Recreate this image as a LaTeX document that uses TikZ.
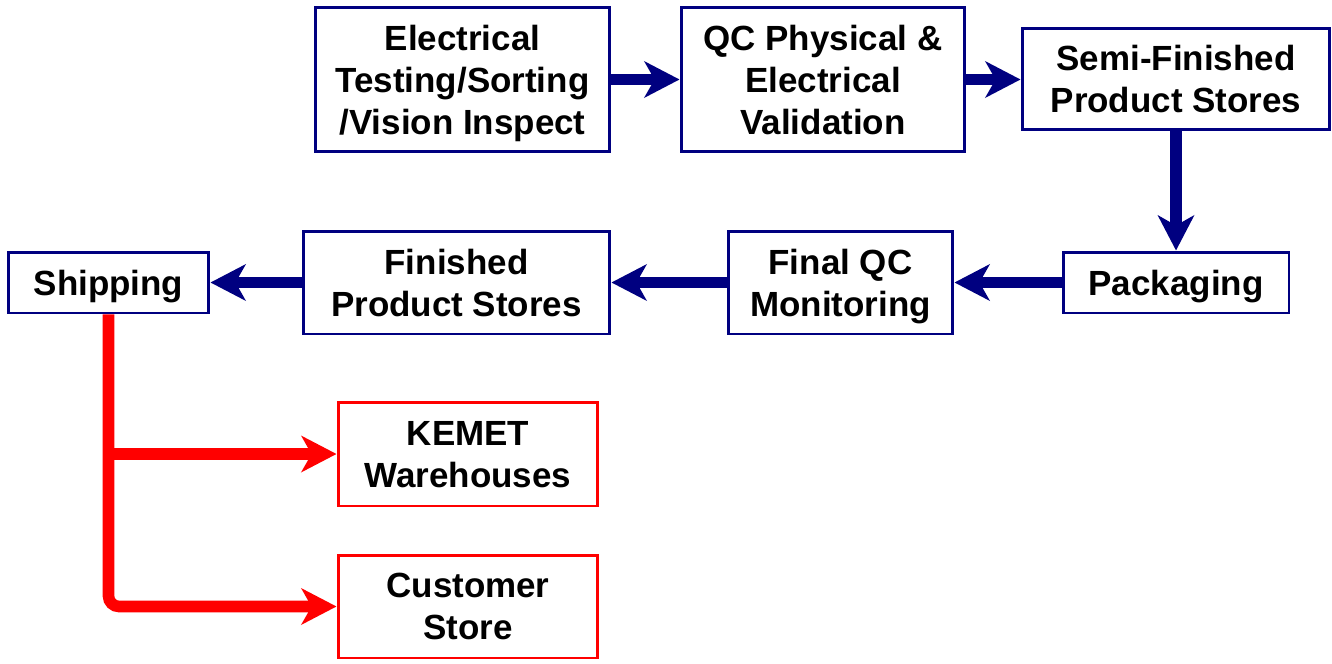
\documentclass[tikz,border=0pt]{standalone}
\usepackage{fontspec}
\setmainfont{Liberation Sans}
\usetikzlibrary{arrows.meta}
\definecolor{navy}{RGB}{0,0,128}

\tikzset{
  stagebox/.style={draw=navy,line width=1.7pt,fill=white,align=center,
    inner sep=0pt,text depth=-2.2pt,font=\bfseries\fontsize{19.9}{23.9}\selectfont},
  outbox/.style={stagebox,draw=red},
  flow/.style={navy,line width=6.6pt,-{Stealth[length=0.7cm,width=0.72cm,inset=0.2cm]}},
  shipflow/.style={flow,red}
}

\begin{document}
\begin{tikzpicture}[x=0.02cm,y=-0.02cm]
  \useasboundingbox (0,0) rectangle (1332,663);

  % process chain
  \node[stagebox,minimum width=5.9cm,minimum height=2.9cm] (etest) at (462.5,79.5)
    {Electrical\\Testing/Sorting\\/Vision Inspect};
  \node[stagebox,minimum width=5.68cm,minimum height=2.9cm] (qcval) at (823,79.5)
    {QC Physical \&\\Electrical\\Validation};
  \node[stagebox,minimum width=6.16cm,minimum height=2.04cm] (semi) at (1176,79)
    {Semi-Finished\\Product Stores};
  \node[stagebox,minimum width=4.52cm,minimum height=1.22cm] (pack) at (1176,282.5)
    {Packaging};
  \node[stagebox,minimum width=4.5cm,minimum height=2.06cm] (finalqc) at (840.5,282.5)
    {Final QC\\Monitoring};
  \node[stagebox,minimum width=6.14cm,minimum height=2.06cm] (finished) at (456.5,282.5)
    {Finished\\Product Stores};
  \node[stagebox,minimum width=4.02cm,minimum height=1.22cm] (ship) at (108.5,282.5)
    {Shipping};

  % destinations
  \node[outbox,minimum width=5.2cm,minimum height=2.08cm] (kemet) at (468,454)
    {KEMET\\Warehouses};
  \node[outbox,minimum width=5.2cm,minimum height=2.06cm] (cust) at (468,606.5)
    {Customer\\Store};

  \draw[flow] (etest.east) -- (qcval.west);
  \draw[flow] (qcval.east) -- (qcval.east -| semi.west);
  \draw[flow] (semi.south) -- (pack.north);
  \draw[flow] (pack.west) -- (finalqc.east);
  \draw[flow] (finalqc.west) -- (finished.east);
  \draw[flow] (finished.west) -- (ship.east);

  \draw[shipflow,rounded corners=6pt] (ship.south) |- (cust.west);
  \draw[shipflow] (ship.south |- kemet.west) -- (kemet.west);
\end{tikzpicture}
\end{document}
